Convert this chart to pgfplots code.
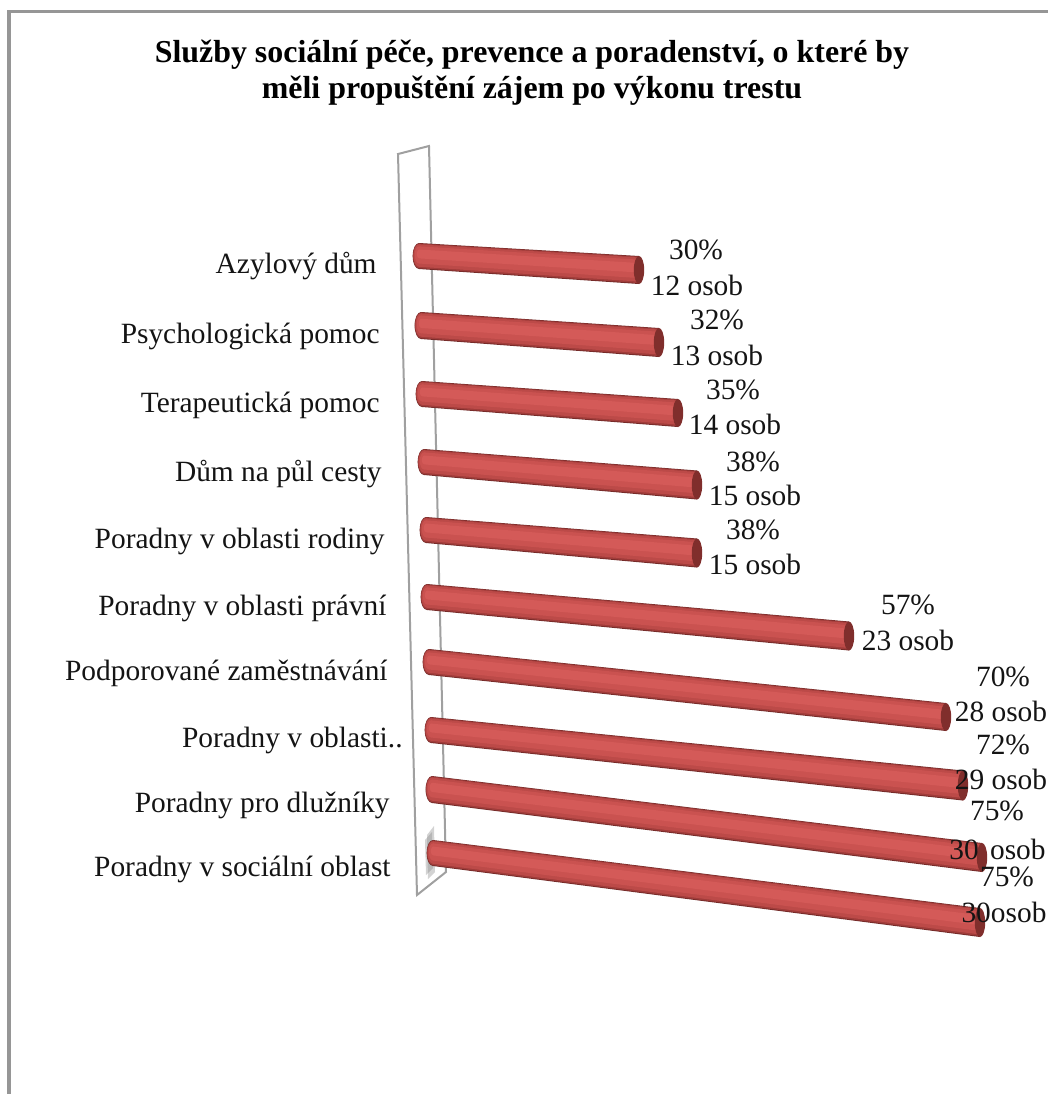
\documentclass[border=0pt]{standalone}
\usepackage{fontspec}
\setmainfont{Liberation Serif}
\usepackage{pgfplots}
\pgfplotsset{compat=1.18}

\definecolor{framecol}{RGB}{150,150,150}
\definecolor{wallcol}{RGB}{160,160,160}
\definecolor{txt}{RGB}{20,20,20}
\definecolor{cyla}{RGB}{115,42,40}
\definecolor{cylb}{RGB}{160,60,58}
\definecolor{cylc}{RGB}{188,74,72}
\definecolor{cyld}{RGB}{202,82,80}
\definecolor{cyle}{RGB}{212,90,88}
\definecolor{cylcap}{RGB}{128,46,44}

% one px of the reference is 0.5pt here
\newcommand{\cyllayer}[2]{%
  \pgfmathsetmacro\ya{\cya-(1-#1)*0.12*\cha-#1*\cha/2}%
  \pgfmathsetmacro\yd{\cya-(1-#1)*0.12*\cha+#1*\cha/2}%
  \pgfmathsetmacro\yb{\cyb-(1-#1)*0.12*\chb-#1*\chb/2}%
  \pgfmathsetmacro\yc{\cyb-(1-#1)*0.12*\chb+#1*\chb/2}%
  \pgfmathsetmacro\ym{\cya-(1-#1)*0.12*\cha}%
  \pgfmathsetmacro\rx{#1*3.2}%
  \pgfmathsetmacro\ry{#1*\cha/4}%
  \edef\tmp{%
    \noexpand\fill[#2] (axis cs:\cxa,\ym) ellipse [x radius=\rx pt, y radius=\ry pt];
    \noexpand\addplot[fill=#2,draw=none] coordinates {(\cxa,\ya) (\cxb,\yb) (\cxb,\yc) (\cxa,\yd)} --cycle;
  }\tmp
}
% \cyl{left x}{left y}{right x}{right y}{left height}{right height}
\newcommand{\cyl}[6]{%
  \pgfmathsetmacro\cxa{#1+6}\pgfmathsetmacro\cya{#2}%
  \pgfmathsetmacro\cxb{#3-5}\pgfmathsetmacro\cyb{#4}%
  \pgfmathsetmacro\cha{#5}\pgfmathsetmacro\chb{#6}%
  \cyllayer{1.00}{cyla}%
  \cyllayer{0.95}{cylb}%
  \cyllayer{0.86}{cylc}%
  \cyllayer{0.66}{cyld}%
  \cyllayer{0.34}{cyle}%
  \pgfmathsetmacro\ry{#6/4}%
  \edef\tmp{\noexpand\fill[cylcap] (axis cs:\cxb,\cyb) ellipse [x radius=2.6pt, y radius=\ry pt];}\tmp
}
\newcommand{\cat}[3]{\node[anchor=east,inner sep=0pt,text=txt] at (axis cs:#1,#2+3) {#3};}
\newcommand{\val}[3]{\node[inner sep=0pt,text=txt] at (axis cs:#1,#2) {#3};}

\begin{document}
\begin{tikzpicture}
\useasboundingbox (0,0) rectangle (524pt,547pt);
\begin{axis}[
    at={(0,0)},
    anchor=south west,
    scale only axis,
    width=524pt,
    height=547pt,
    xmin=0, xmax=1048,
    ymin=0, ymax=1094,
    y dir=reverse,
    hide axis,
    font=\fontsize{14.7pt}{16pt}\selectfont,
]

% frame of the chart area
\addplot[framecol,line width=1.5pt] coordinates {(9,1094) (9,11) (1048,11)};

% back wall
\addplot[wallcol,line width=1pt] coordinates {(398,154) (429,146) (446,872) (417,895)} --cycle;
\addplot[fill=gray,fill opacity=0.35,draw=none] coordinates {(427,835) (434,826) (435,872) (428,879)} --cycle;
\addplot[fill=gray,fill opacity=0.35,draw=none] coordinates {(425,840) (432,832) (433,868) (426,875)} --cycle;

% bars, left end and right end in reference pixels
\cyl{413}{256}{644}{270}{26}{28}
\cyl{415}{325.5}{664}{342.5}{27}{29}
\cyl{416}{394}{683}{413}{26}{28}
\cyl{418}{462}{702}{485}{26}{29}
\cyl{420}{530}{702}{553}{26}{29}
\cyl{421}{597}{854}{636}{26}{29}
\cyl{423}{662}{951}{717}{26}{28}
\cyl{425}{730}{968}{785.5}{26}{30}
\cyl{426}{789.5}{987}{857.5}{27}{29}
\cyl{427}{853}{985}{922.5}{26}{29}

% title
\node[align=center,inner sep=0pt,text=black,font=\fontsize{15.95pt}{18pt}\selectfont\bfseries] at (axis cs:532,73)
  {Služby sociální péče, prevence a poradenství, o které by\\měli propuštění zájem po výkonu trestu};

% category names
\cat{377}{263}{Azylový dům}
\cat{380}{333}{Psychologická pomoc}
\cat{380}{402}{Terapeutická pomoc}
\cat{382}{471}{Dům na půl cesty}
\cat{385}{538}{Poradny v oblasti rodiny}
\cat{387}{605}{Poradny v oblasti právní}
\cat{388}{670}{Podporované zaměstnávání}
\cat{403}{737}{Poradny v oblasti..}
\cat{390}{802}{Poradny pro dlužníky}
\cat{391}{866}{Poradny v sociální oblast}

% value labels
\val{696}{250}{30\%}  \val{697}{285}{12 osob}
\val{717}{320}{32\%}  \val{717}{355}{13 osob}
\val{733}{390}{35\%}  \val{735}{424}{14 osob}
\val{753}{462}{38\%}  \val{755}{495}{15 osob}
\val{753}{530}{38\%}  \val{755}{564}{15 osob}
\val{908}{605}{57\%}  \val{908}{640}{23 osob}
\val{1003}{677}{70\%} \val{1001}{711}{28 osob}
\val{1003}{745}{72\%} \val{1001}{779}{29 osob}
\val{997}{811}{75\%}  \val{997.5}{849}{30\hspace{2pt} osob}
\val{1007}{877}{75\%} \val{1004}{912}{30osob}

\end{axis}
\end{tikzpicture}
\end{document}
